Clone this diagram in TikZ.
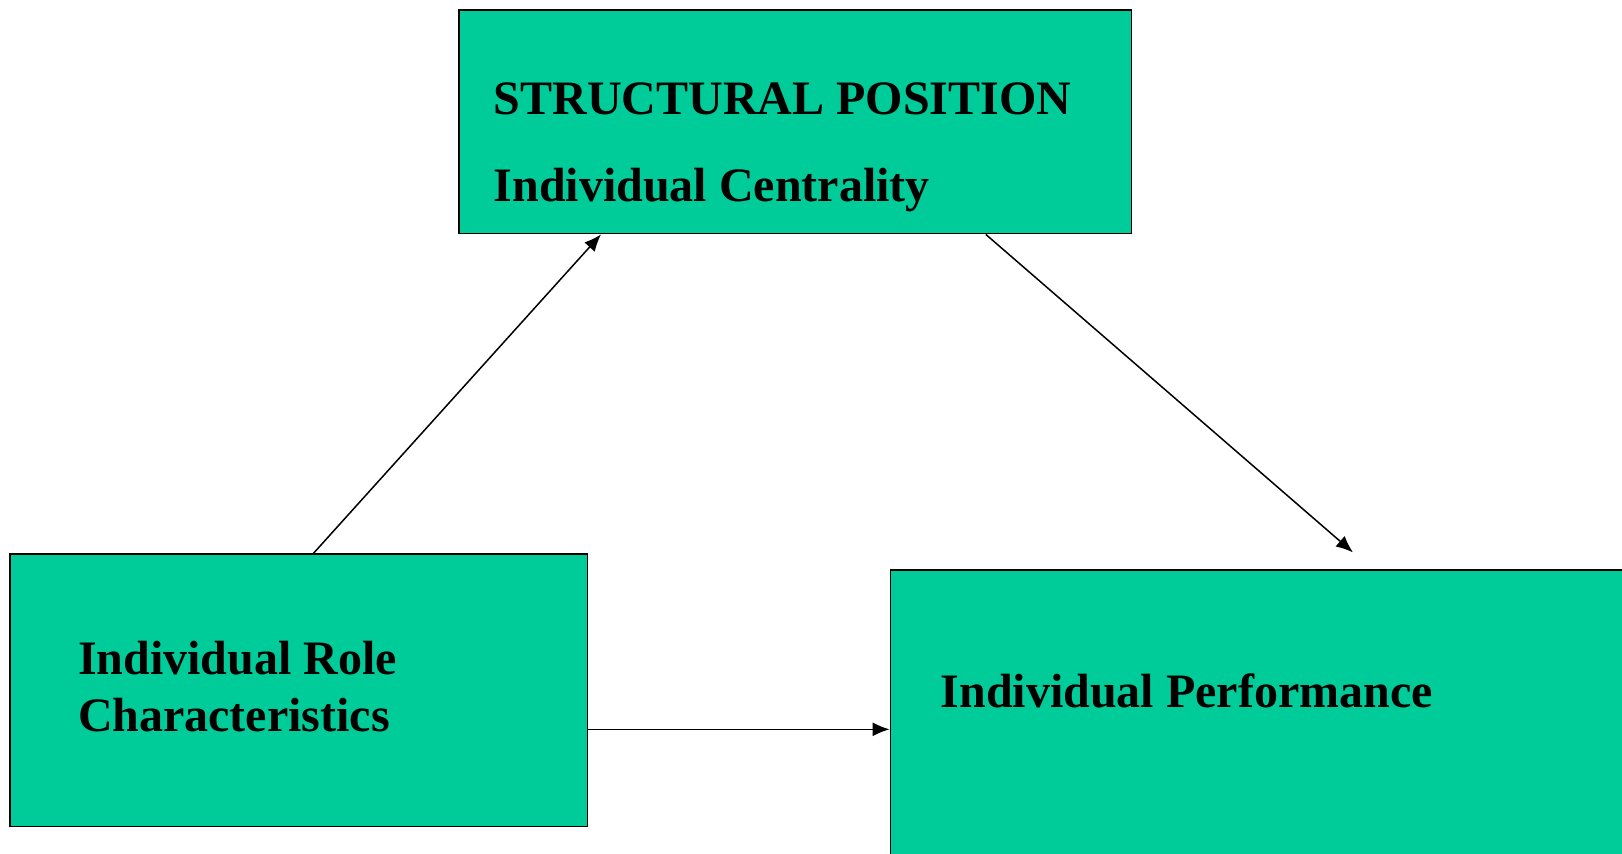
\documentclass[tikz,border=0pt]{standalone}
\usepackage{fontspec}
\setmainfont{Liberation Serif}
\usetikzlibrary{arrows.meta,calc}
\definecolor{boxgreen}{RGB}{0,204,153}
\tikzset{
  box/.style={draw=black,line width=0.85pt,fill=boxgreen,inner sep=0pt,anchor=north west},
  lbl/.style={font=\bfseries\fontsize{24}{28}\selectfont,inner sep=0pt,anchor=base west},
  conn/.style={line width=0.75pt,-{Latex[length=8.5pt,width=7pt]}}
}
\begin{document}
\begin{tikzpicture}[x=0.5pt,y=-0.5pt]
\fill[white] (0,0) rectangle (1622,853);
\useasboundingbox (0,0) rectangle (1622,853);
\clip (0,0) rectangle (1622,853);
\node[box,minimum width=336.15pt,minimum height=111.7pt] (tb) at (458.3,9.3) {};
\node[box,minimum width=288.6pt,minimum height=136.05pt] (lb) at (9.3,553.4) {};
\node[box,minimum width=375pt,minimum height=150.5pt] (rb) at (889.6,568.9) {};
\node[lbl] (t1) at (493.4,114.0) {STRUCTURAL POSITION};
\node[lbl] (t2) at (493.4,201.7) {Individual Centrality};
\node[lbl] (l1) at (77.6,674.0) {Individual Role};
\node[lbl] (l2) at (77.6,731.5) {Characteristics};
\node[lbl] (r1) at (940.3,707.0) {Individual Performance};
\coordinate (end2) at (1353,552.4);
\draw[conn] ($(lb.north west)+(304.1,0)$) -- ($(tb.south west)+(142.7,0)$);
\draw[conn] ($(tb.south west)+(527.5,0)$) -- (end2);
\draw[conn] ($(lb.north east)+(0,175.9)$) -- ($(rb.north west)+(0,160.4)$);
\end{tikzpicture}
\end{document}
